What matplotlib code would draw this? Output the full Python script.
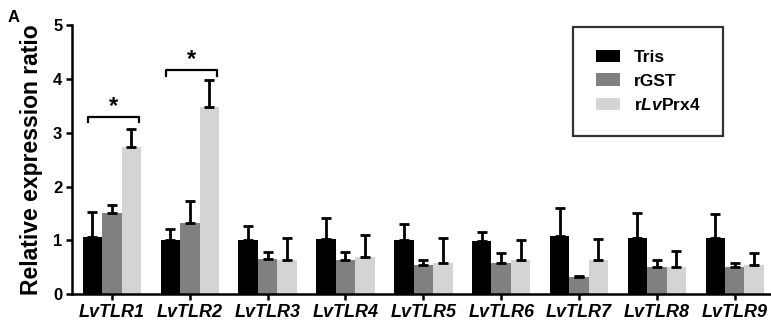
import numpy as np
import matplotlib
matplotlib.use("Agg")
import matplotlib.pyplot as plt

plt.rcParams['font.family'] = ['Liberation Sans', 'DejaVu Sans']
plt.rcParams['mathtext.fontset'] = 'custom'
plt.rcParams['mathtext.rm'] = 'Liberation Sans:bold'
plt.rcParams['mathtext.it'] = 'Liberation Sans:italic:bold'
plt.rcParams['mathtext.bf'] = 'Liberation Sans:bold'

genes = ["LvTLR1", "LvTLR2", "LvTLR3", "LvTLR4", "LvTLR5", "LvTLR6", "LvTLR7", "LvTLR8", "LvTLR9"]

tris = [1.06, 1.00, 1.00, 1.03, 1.00, 0.99, 1.08, 1.05, 1.05]
tris_err = [0.46, 0.22, 0.27, 0.39, 0.30, 0.17, 0.52, 0.46, 0.44]
rgst = [1.50, 1.33, 0.66, 0.64, 0.54, 0.58, 0.32, 0.51, 0.50]
rgst_err = [0.16, 0.40, 0.13, 0.15, 0.09, 0.18, 0.01, 0.13, 0.08]
prx4 = [2.73, 3.47, 0.64, 0.69, 0.58, 0.63, 0.63, 0.51, 0.54]
prx4_err = [0.34, 0.51, 0.41, 0.41, 0.47, 0.37, 0.40, 0.30, 0.23]

# significance brackets: (group index, bracket height)
sig_groups = [0, 1]
sig_heights = [3.29, 4.16]

series = [("Tris", tris, tris_err, "#000000"),
          ("rGST", rgst, rgst_err, "#808080"),
          (r"r$\mathit{Lv}$Prx4", prx4, prx4_err, "#d4d4d4")]

fig = plt.figure(figsize=(7.71, 3.31), dpi=100)
ax = fig.add_axes([0.0934, 0.111, 0.905, 0.8135])

x = np.arange(len(genes))
w = 0.25
for i, (name, vals, errs, col) in enumerate(series):
    pos = x + (i - 1) * w
    ax.bar(pos, vals, width=w, color=col, label=name, zorder=2)
    ax.errorbar(pos, vals, yerr=[np.zeros(len(errs)), errs], fmt='none',
                ecolor='black', elinewidth=2.0, capsize=3.8, capthick=2.0, zorder=3)

for g, h in zip(sig_groups, sig_heights):
    x0 = g - 0.31
    x1 = g + 0.35
    ax.plot([x0, x0, x1, x1], [h - 0.1, h, h, h - 0.1], color='black', lw=1.6, clip_on=False)
    ax.text((x0 + x1) / 2, h - 0.02, "*", ha='center', va='bottom', fontsize=17, fontweight='bold')

ax.set_xlim(-0.513, 8.45)
ax.set_ylim(0, 5)
ax.set_yticks([0, 1, 2, 3, 4, 5])
ax.set_xticks(x)
ax.set_xticklabels(genes, fontsize=13, fontweight='bold', fontstyle='italic')
for lab in ax.get_yticklabels():
    lab.set_fontsize(12)
    lab.set_fontweight('bold')
ax.set_ylabel("Relative expression ratio", fontsize=16.5, fontweight='bold', labelpad=7)

ax.spines['top'].set_visible(False)
ax.spines['right'].set_visible(False)
ax.spines['left'].set_linewidth(1.8)
ax.spines['bottom'].set_linewidth(1.8)
ax.tick_params(axis='both', width=1.8, length=4, pad=3)

leg = ax.legend(loc='upper left', bbox_to_anchor=(573 / 771, 1 - 27 / 331),
                bbox_transform=fig.transFigure, fontsize=12.5, frameon=True,
                fancybox=False, edgecolor='black', borderpad=1.3,
                handlelength=1.4, handleheight=0.7, labelspacing=0.5,
                handletextpad=0.8, borderaxespad=0)
leg.get_frame().set_linewidth(1.6)
for t in leg.get_texts():
    t.set_fontweight('bold')

fig.text(14 / 771, 1 - 17 / 331, "A", fontsize=12, fontweight='bold', ha='center', va='center')

fig.savefig("out.png", dpi=100)
